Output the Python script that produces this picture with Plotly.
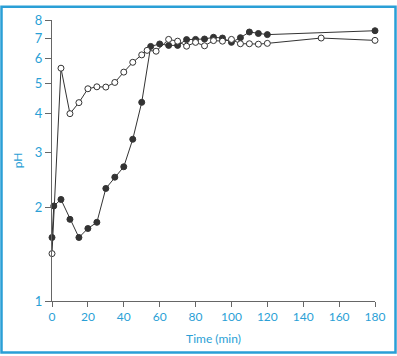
import plotly.graph_objects as go

# Open circles series
t_open = [0, 5, 10, 15, 20, 25, 30, 35, 40, 45, 50, 53, 58, 65, 70, 75, 80,
          85, 90, 95, 100, 105, 110, 115, 120, 150, 180]
ph_open = [1.42, 5.6, 4.0, 4.34, 4.81, 4.88, 4.87, 5.04, 5.44, 5.85, 6.18, 6.39,
           6.35, 6.93, 6.84, 6.59, 6.78, 6.61, 6.87, 6.84, 6.93, 6.71, 6.71, 6.69,
           6.73, 7.0, 6.88]

# Filled circles series
t_filled = [0, 1, 5, 10, 15, 20, 25, 30, 35, 40, 45, 50, 55, 60, 65, 70, 75, 80,
            85, 90, 95, 100, 105, 110, 115, 120, 180]
ph_filled = [1.60, 2.02, 2.12, 1.83, 1.60, 1.71, 1.79, 2.30, 2.50, 2.70, 3.31,
             4.35, 6.58, 6.70, 6.63, 6.63, 6.92, 6.93, 6.95, 7.04, 7.0, 6.78, 7.02,
             7.32, 7.24, 7.18, 7.39]

x_ticks = [0, 20, 40, 60, 80, 100, 120, 140, 160, 180]
y_ticks = [1, 2, 3, 4, 5, 6, 7, 8]

BLUE = "#2a9fd6"
DARK = "#333333"
AXIS = "#666666"

fig = go.Figure()
fig.add_trace(go.Scatter(
    x=t_filled, y=ph_filled, mode="lines+markers", cliponaxis=False,
    line=dict(color=DARK, width=1),
    marker=dict(size=6, color=DARK, line=dict(color=DARK, width=1)),
    showlegend=False))
fig.add_trace(go.Scatter(
    x=t_open, y=ph_open, mode="lines+markers", cliponaxis=False,
    line=dict(color=DARK, width=1),
    marker=dict(size=6, color="white", line=dict(color=DARK, width=1)),
    showlegend=False))

L, R, T, B = 52, 22, 15, 54
W, H = 397, 356
pw, ph = W - L - R, H - T - B

fig.add_shape(type="rect", xref="paper", yref="paper",
              x0=(1.5 - L) / pw, x1=(395.5 - L) / pw,
              y0=(H - B - 354.5) / ph, y1=(H - B - 1.5) / ph,
              line=dict(color=BLUE, width=2.5), fillcolor="rgba(0,0,0,0)")

fig.update_layout(
    width=W, height=H,
    margin=dict(l=L, r=R, t=T, b=B, pad=0),
    paper_bgcolor="white", plot_bgcolor="white",
    font=dict(family="Lato", size=12, color=BLUE),
    xaxis=dict(range=[0, 180], tickvals=x_ticks, showgrid=False, zeroline=False,
               showline=True, linecolor=AXIS, linewidth=1,
               ticks="outside", ticklen=5, tickcolor=AXIS,
               tickfont=dict(color=BLUE, size=12),
               title=dict(text="Time (min)", font=dict(color=BLUE, size=12), standoff=11)),
    yaxis=dict(type="log", range=[0, 0.90309], tickvals=y_ticks,
               ticktext=[str(v) for v in y_ticks],
               showgrid=False, zeroline=False,
               showline=True, linecolor=AXIS, linewidth=1,
               ticks="outside", ticklen=6, tickcolor=AXIS,
               tickfont=dict(color=BLUE, size=13),
               title=dict(text="pH", font=dict(color=BLUE, size=12), standoff=9)),
)

fig.write_html("out.html", config={"displayModeBar": False},
               post_script="document.body.style.margin='0';document.body.style.padding='0';")
